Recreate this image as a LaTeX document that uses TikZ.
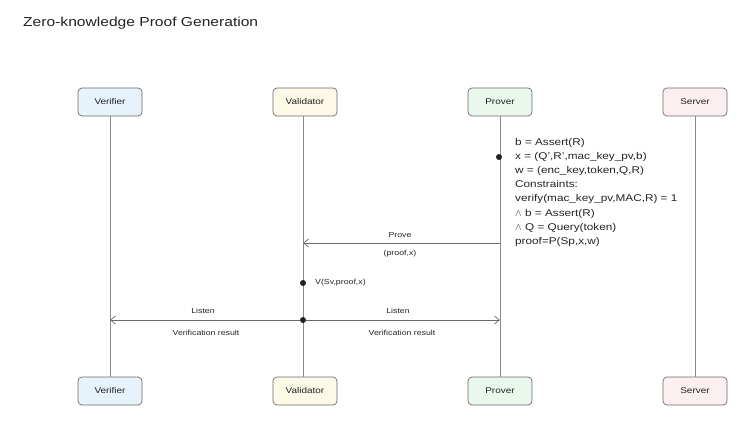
\documentclass[tikz,border=0pt]{standalone}
\usepackage{fontspec}
\setmainfont{Liberation Sans}[FakeStretch=1.2]
\usetikzlibrary{arrows.meta}
\definecolor{strokegray}{HTML}{6B6B6B}
\definecolor{lifegray}{HTML}{8A8A8A}
\definecolor{vfill}{HTML}{E7F3FB}
\definecolor{afill}{HTML}{FCF9E6}
\definecolor{pfill}{HTML}{EAF7EC}
\definecolor{sfill}{HTML}{FBEFEF}
\definecolor{inkc}{HTML}{222222}
\tikzset{
  actor/.style={draw=strokegray, line width=0.7pt, rounded corners=4pt,
    minimum width=64pt, minimum height=28pt, inner sep=0pt,
    font=\fontsize{8.3}{9}\selectfont, text=inkc},
  lifeline/.style={draw=lifegray, line width=0.8pt},
  msg/.style={draw=strokegray, line width=0.7pt, -{Straight Barb[length=5pt,width=8pt]}},
  lbl/.style={font=\fontsize{7.3}{8}\selectfont, text=inkc, inner sep=0pt},
  dotmark/.style={circle, fill=inkc, minimum size=6pt, inner sep=0pt},
  note/.style={font=\fontsize{9.8}{14.15}\selectfont, text=inkc, align=left, inner sep=0pt, anchor=north west},
}
\begin{document}
\begin{tikzpicture}[x=1pt,y=-1pt]
\useasboundingbox (0,0) rectangle (744,424);
\node[anchor=west, font=\fontsize{13}{15}\selectfont, text=inkc, inner sep=0pt] (title) at (23,23) {Zero-knowledge Proof Generation};

% top actors
\node[actor, fill=vfill] (vt) at (110,102) {Verifier};
\node[actor, fill=afill] (at) at (305,102) {Validator};
\node[actor, fill=pfill] (pt) at (500,102) {Prover};
\node[actor, fill=sfill] (st) at (695,102) {Server};
% bottom actors
\node[actor, fill=vfill] (vb) at (110,391) {Verifier};
\node[actor, fill=afill] (ab) at (305,391) {Validator};
\node[actor, fill=pfill] (pb) at (500,391) {Prover};
\node[actor, fill=sfill] (sb) at (695,391) {Server};

% lifelines
\draw[lifeline] (vt) -- (vb);
\draw[lifeline] (at.south -| 303,0) -- (ab.north -| 303,0);
\draw[lifeline] (pt) -- (pb);
\draw[lifeline] (st) -- (sb);

% prover computation
\node[dotmark] (pd) at (499,157) {};
\node[note] (calc) at (515,138) {b = Assert(R)\\
x = (Q',R',mac\_key\_pv,b)\\
w = (enc\_key,token,Q,R)\\
Constraints:\\
verify(mac\_key\_pv,MAC,R) = 1\\
$\wedge$ b = Assert(R)\\
$\wedge$ Q = Query(token)\\
proof=P(Sp,x,w)};

% Prove message
\coordinate (p1) at (500,243);
\coordinate (a1) at (303,243);
\draw[msg] (p1) -- (a1);
\node[lbl] (prove) at (400,235) {Prove};
\node[lbl] (proofx) at (400,254) {(proof,x)};

% validator verification
\node[dotmark] (vd) at (303,283) {};
\node[lbl, anchor=west] (vlab) at (315,283) {V(Sv,proof,x)};

% Listen messages
\node[dotmark] (ld) at (303,320) {};
\coordinate (vl) at (110,320);
\coordinate (pl) at (500,320);
\draw[msg] (ld) -- (vl);
\draw[msg] (ld) -- (pl);
\node[lbl] (lis1) at (203,311) {Listen};
\node[lbl] (lis2) at (398,311) {Listen};
\node[lbl] (vr1) at (206,333) {Verification result};
\node[lbl] (vr2) at (402,333) {Verification result};
\end{tikzpicture}
\end{document}
